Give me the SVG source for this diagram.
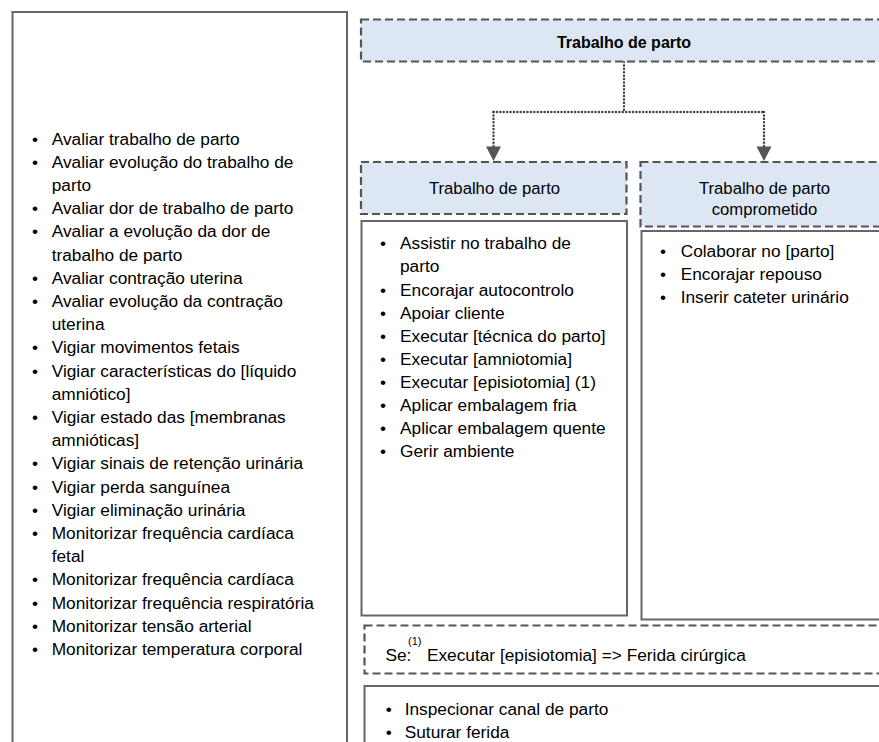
<svg xmlns="http://www.w3.org/2000/svg" width="879" height="742" viewBox="0 0 879 742">
<defs>
<style>
.t{font-family:"Liberation Sans",Arial,sans-serif;font-size:17.3px;fill:#000}
.h{font-size:16.7px}
.b{font-weight:bold;font-size:16px}
.bul{font-family:"Liberation Sans",Arial,sans-serif;font-size:17.2px;fill:#000;text-anchor:middle}
.sup{font-family:"Liberation Sans",Arial,sans-serif;font-size:11px;fill:#000}
.hdr{fill:#dde7f3;stroke:#555;stroke-width:2.2;stroke-dasharray:8 4}
.note{fill:#fff;stroke:#555;stroke-width:2.2;stroke-dasharray:8 4}
.box{fill:#fff;stroke:#666;stroke-width:2}
.dot{fill:none;stroke:#444;stroke-width:2.4;stroke-linecap:round;stroke-dasharray:0.1 3.3}
.mid{text-anchor:middle}
</style>
</defs>
<rect width="879" height="742" fill="#fff"/>

<g id="connectors">
<path class="dot" d="M624,62 V112 M493.5,112 H764"/>
<path class="dot" d="M493.5,112 V147"/>
<path class="dot" d="M764,112 V147"/>
<path d="M486,146.5 L501,146.5 L493.5,161 Z" fill="#555"/>
<path d="M756.5,146.5 L771.5,146.5 L764,161 Z" fill="#555"/>
</g>

<g id="node-assessment">
<rect class="box" x="12.5" y="12" width="334.5" height="800"/>
<g class="bul">
<text x="35" y="144.5">•</text>
<text x="35" y="167.7">•</text>
<text x="35" y="214.1">•</text>
<text x="35" y="237.3">•</text>
<text x="35" y="283.7">•</text>
<text x="35" y="306.9">•</text>
<text x="35" y="353.3">•</text>
<text x="35" y="376.5">•</text>
<text x="35" y="422.9">•</text>
<text x="35" y="469.3">•</text>
<text x="35" y="492.5">•</text>
<text x="35" y="515.7">•</text>
<text x="35" y="538.9">•</text>
<text x="35" y="585.3">•</text>
<text x="35" y="608.5">•</text>
<text x="35" y="631.7">•</text>
<text x="35" y="654.9">•</text>
</g>
<text class="t">
<tspan x="51.7" y="144.5">Avaliar trabalho de parto</tspan>
<tspan x="51.7" y="167.7">Avaliar evolução do trabalho de</tspan>
<tspan x="51.7" y="190.9">parto</tspan>
<tspan x="51.7" y="214.1">Avaliar dor de trabalho de parto</tspan>
<tspan x="51.7" y="237.3">Avaliar a evolução da dor de</tspan>
<tspan x="51.7" y="260.5">trabalho de parto</tspan>
<tspan x="51.7" y="283.7">Avaliar contração uterina</tspan>
<tspan x="51.7" y="306.9">Avaliar evolução da contração</tspan>
<tspan x="51.7" y="330.1">uterina</tspan>
<tspan x="51.7" y="353.3">Vigiar movimentos fetais</tspan>
<tspan x="51.7" y="376.5">Vigiar características do [líquido</tspan>
<tspan x="51.7" y="399.7">amniótico]</tspan>
<tspan x="51.7" y="422.9">Vigiar estado das [membranas</tspan>
<tspan x="51.7" y="446.1">amnióticas]</tspan>
<tspan x="51.7" y="469.3">Vigiar sinais de retenção urinária</tspan>
<tspan x="51.7" y="492.5">Vigiar perda sanguínea</tspan>
<tspan x="51.7" y="515.7">Vigiar eliminação urinária</tspan>
<tspan x="51.7" y="538.9">Monitorizar frequência cardíaca</tspan>
<tspan x="51.7" y="562.1">fetal</tspan>
<tspan x="51.7" y="585.3">Monitorizar frequência cardíaca</tspan>
<tspan x="51.7" y="608.5">Monitorizar frequência respiratória</tspan>
<tspan x="51.7" y="631.7">Monitorizar tensão arterial</tspan>
<tspan x="51.7" y="654.9">Monitorizar temperatura corporal</tspan>
</text>
</g>

<g id="node-title">
<rect class="hdr" x="361" y="19.5" width="560" height="42"/>
<text class="t b mid" x="624" y="47.5">Trabalho de parto</text>
</g>

<g id="node-normal-header">
<rect class="hdr" x="361" y="162" width="265.5" height="52"/>
<text class="t h mid" x="494.5" y="193.5">Trabalho de parto</text>
</g>

<g id="node-compromised-header">
<rect class="hdr" x="640.5" y="162" width="280" height="64.5"/>
<text class="t h mid"><tspan x="764.5" y="193.5">Trabalho de parto</tspan><tspan x="764.5" y="214.5">comprometido</tspan></text>
</g>

<g id="node-normal-interventions">
<rect class="box" x="361.5" y="221" width="265.5" height="394.5"/>
<g class="bul">
<text x="383" y="249.3">•</text>
<text x="383" y="295.5">•</text>
<text x="383" y="318.6">•</text>
<text x="383" y="341.7">•</text>
<text x="383" y="364.8">•</text>
<text x="383" y="387.9">•</text>
<text x="383" y="411">•</text>
<text x="383" y="434.1">•</text>
<text x="383" y="457.2">•</text>
</g>
<text class="t">
<tspan x="400" y="249.3">Assistir no trabalho de</tspan>
<tspan x="400" y="272.4">parto</tspan>
<tspan x="400" y="295.5">Encorajar autocontrolo</tspan>
<tspan x="400" y="318.6">Apoiar cliente</tspan>
<tspan x="400" y="341.7">Executar [técnica do parto]</tspan>
<tspan x="400" y="364.8">Executar [amniotomia]</tspan>
<tspan x="400" y="387.9">Executar [episiotomia] (1)</tspan>
<tspan x="400" y="411">Aplicar embalagem fria</tspan>
<tspan x="400" y="434.1">Aplicar embalagem quente</tspan>
<tspan x="400" y="457.2">Gerir ambiente</tspan>
</text>
</g>

<g id="node-compromised-interventions">
<rect class="box" x="641.5" y="231" width="280" height="388.5"/>
<g class="bul">
<text x="663" y="256.5">•</text>
<text x="663" y="279.6">•</text>
<text x="663" y="302.7">•</text>
</g>
<text class="t">
<tspan x="680.7" y="256.5">Colaborar no [parto]</tspan>
<tspan x="680.7" y="279.6">Encorajar repouso</tspan>
<tspan x="680.7" y="302.7">Inserir cateter urinário</tspan>
</text>
</g>

<g id="node-footnote">
<rect class="note" x="364.5" y="625.5" width="560" height="48"/>
<text class="t" x="385.4" y="661">Se:</text>
<text class="sup" x="408" y="645">(1)</text>
<text class="t" x="426.9" y="661">Executar [episiotomia] =&gt; Ferida cirúrgica</text>
</g>

<g id="node-wound-interventions">
<rect class="box" x="364.5" y="686" width="560" height="100"/>
<g class="bul">
<text x="388.8" y="715">•</text>
<text x="388.8" y="738.2">•</text>
</g>
<text class="t">
<tspan x="404.7" y="715">Inspecionar canal de parto</tspan>
<tspan x="404.7" y="738.2">Suturar ferida</tspan>
</text>
</g>
</svg>
